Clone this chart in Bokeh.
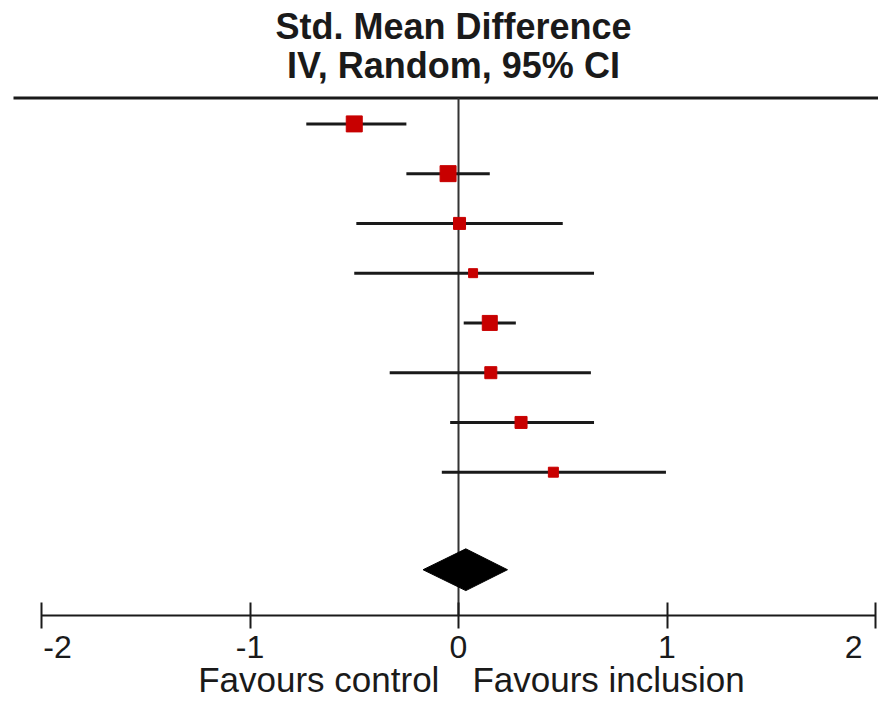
from bokeh.plotting import figure
from bokeh.models import Range1d, FixedTicker, ColumnDataSource, LinearAxis
from bokeh.core.properties import value
from bokeh.embed import file_html
from bokeh.resources import INLINE
import math

# ---- data ----
study_row = [1, 2, 3, 4, 5, 6, 7, 8]
study_est = [-0.50, -0.05, 0.005, 0.07, 0.15, 0.155, 0.30, 0.455]
study_lo = [-0.73, -0.25, -0.49, -0.50, 0.025, -0.33, -0.04, -0.08]
study_hi = [-0.25, 0.15, 0.50, 0.65, 0.275, 0.635, 0.65, 0.995]
study_weight = [19.0, 19.0, 10.7, 6.0, 16.7, 10.7, 10.7, 7.4]

pooled_row = 9.96
pooled_est = 0.035
pooled_lo = -0.17
pooled_hi = 0.235

tick_values = [-2, -1, 0, 1, 2]
tick_labels = {-2: "\u2003-2", -1: "-1", 0: "0", 1: "1", 2: "2\u2002"}

title_lines = ["Std. Mean Difference", "IV, Random, 95% CI"]
favours_pos = [-0.67, 0.72]
favours_labels = ["Favours control", "Favours inclusion"]

FONT = "Liberation Sans"
INK = "#1a1a1a"
RED = "#C80000"

PX = 208.5          # pixels per unit on x
X0 = 458            # pixel of x = 0
W, H = 878, 701
Y_TOP, Y_BOT = -1.48, 10.88

p = figure(width=W, height=H, output_backend="svg", toolbar_location=None,
           x_range=Range1d(-X0 / PX, (W - X0) / PX),
           y_range=Range1d(Y_BOT, Y_TOP),
           min_border_left=0, min_border_right=0, min_border_top=0,
           min_border_bottom=83, y_axis_location=None)
p.outline_line_color = None
p.grid.visible = False
p.background_fill_color = "white"
p.border_fill_color = "white"

# x axis
ax = p.xaxis[0]
ax.bounds = (-2, 2)
ax.ticker = FixedTicker(ticks=tick_values)
ax.major_label_overrides = tick_labels
ax.minor_tick_line_color = None
ax.axis_line_width = 2
ax.axis_line_color = INK
ax.major_tick_line_width = 2
ax.major_tick_line_color = INK
ax.major_tick_in = 13
ax.major_tick_out = 13
ax.major_label_standoff = 0
ax.major_label_text_font = FONT
ax.major_label_text_font_size = "32px"
ax.major_label_text_color = INK

# favours captions: a second, line-less axis under the first
ax2 = LinearAxis(ticker=FixedTicker(ticks=favours_pos),
                 major_label_overrides={v: t for v, t in zip(favours_pos, favours_labels)},
                 axis_line_color=None, major_tick_line_color=None,
                 minor_tick_line_color=None, major_tick_in=0, major_tick_out=0,
                 major_label_standoff=-8, major_label_text_font=FONT,
                 major_label_text_font_size="35px", major_label_text_color=INK)
p.add_layout(ax2, "below")

# top rule and zero line
p.segment(x0=[(13 - X0) / PX], x1=[(W - X0) / PX], y0=[0.48], y1=[0.48],
          line_color=INK, line_width=3)
p.segment(x0=[0], x1=[0], y0=[0.48], y1=[Y_BOT], line_color="#333333", line_width=2)

# CI lines and study squares
src = ColumnDataSource(dict(row=study_row, est=study_est, lo=study_lo, hi=study_hi,
                            size=[16 * math.sqrt(w / 19.0) for w in study_weight]))
p.segment(x0="lo", x1="hi", y0="row", y1="row", source=src, line_color=INK, line_width=3)
p.scatter(x="est", y="row", size="size", marker="square", source=src,
          fill_color=RED, line_color=RED)

# pooled diamond
half_h = 0.42
p.patch(x=[pooled_lo, pooled_est, pooled_hi, pooled_est],
        y=[pooled_row, pooled_row - half_h, pooled_row, pooled_row + half_h],
        fill_color="black", line_color="black")

# header text
p.text(x=[-0.024, -0.024], y=[-0.96, -0.18], text=title_lines,
       text_font=value(FONT), text_font_style="bold", text_font_size="36px",
       text_align="center", text_baseline="alphabetic", text_color=INK)

open("out.html", "w").write(file_html(p, INLINE))
